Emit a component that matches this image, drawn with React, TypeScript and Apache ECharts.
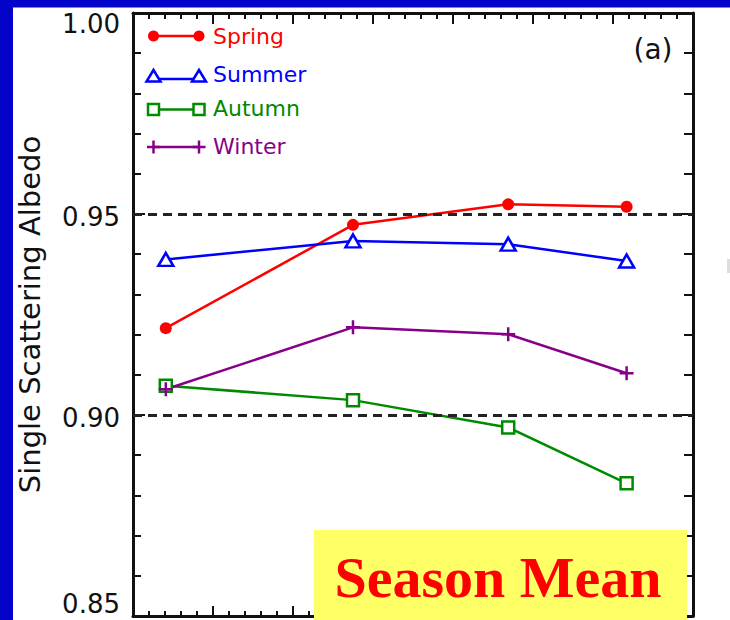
import React, { useEffect, useRef } from "react";
import * as echarts from "echarts";

// ---- data ----
const seasonX = [0.41, 2.75, 4.69, 6.17];
const springVals = [0.9216, 0.9473, 0.9524, 0.9518];
const summerVals = [0.9387, 0.9433, 0.9425, 0.9383];
const autumnVals = [0.9073, 0.9037, 0.8969, 0.883];
const winterVals = [0.9064, 0.9218, 0.9201, 0.9104];
const seriesNames = ["Spring", "Summer", "Autumn", "Winter"];
const seriesColors = ["#ff0000", "#0000ff", "#008a00", "#880088"];
const refLines = [0.95, 0.9];
const yMin = 0.85;
const yMax = 1.0;
const yStep = 0.05;
const xMin = 0;
const xMax = 7;
const yTitle = "Single Scattering Albedo";
const panelLabel = "(a)";
const boxLabel = "Season Mean";

const FONT = "DejaVu Sans";
const INK = "#111111";
const LW = 2.5;

function pairs(vals: number[]) {
  return seasonX.map((x, i) => [x, vals[i]]);
}

export default function App() {
  const ref = useRef<HTMLDivElement>(null);

  useEffect(() => {
    if (!ref.current) return;
    const chart = echarts.init(ref.current, undefined, { renderer: "svg" });

    const axisCommon = {
      axisLine: { show: true, onZero: false, lineStyle: { color: INK, width: 3 } },
      splitLine: { show: false },
    };

    const legendRows = [36, 77, 109.5, 147];
    const legendTextY = [36, 74, 108.5, 146.5];
    const lx1 = 153.5;
    const lx2 = 199;
    const legendGraphics: any[] = [];
    seriesNames.forEach((name, i) => {
      const y = legendRows[i];
      const c = seriesColors[i];
      const ly = i === 1 ? y + 2 : y;
      legendGraphics.push({
        type: "line",
        shape: { x1: lx1, y1: ly, x2: lx2, y2: ly },
        style: { stroke: c, lineWidth: LW },
        z: 50,
      });
      [lx1, lx2].forEach((x) => {
        if (i === 0) {
          legendGraphics.push({ type: "circle", shape: { cx: x, cy: y, r: 5.5 }, style: { fill: c }, z: 51 });
        } else if (i === 1) {
          legendGraphics.push({
            type: "polygon",
            shape: { points: [[x - 7, y + 4.5], [x + 7, y + 4.5], [x, y - 7]] },
            style: { fill: "#fff", stroke: c, lineWidth: LW },
            z: 51,
          });
        } else if (i === 2) {
          legendGraphics.push({
            type: "rect",
            shape: { x: x - 5.5, y: y - 5.5, width: 11, height: 11 },
            style: { fill: "#fff", stroke: c, lineWidth: LW },
            z: 51,
          });
        } else {
          legendGraphics.push({
            type: "line",
            shape: { x1: x, y1: y - 6.5, x2: x, y2: y + 6.5 },
            style: { stroke: c, lineWidth: LW },
            z: 51,
          });
          legendGraphics.push({
            type: "line",
            shape: { x1: x - 6.5, y1: y, x2: x + 6.5, y2: y },
            style: { stroke: c, lineWidth: LW },
            z: 51,
          });
        }
      });
      legendGraphics.push({
        type: "text",
        x: 213,
        y: legendTextY[i],
        style: {
          text: name,
          fill: c,
          font: `22px "${FONT}"`,
          verticalAlign: "middle",
          align: "left",
        },
        z: 51,
      });
    });

    const yLabelFormatter = (v: number) => {
      const s = v.toFixed(2);
      if (Math.abs(v - yMax) < 1e-6) return `{t|${s}}`;
      if (Math.abs(v - yMin) < 1e-6) return `{b|${s}}`;
      return `{m|${s}}`;
    };
    const richBase = { fontSize: 26, fontFamily: FONT, color: INK };

    const option: any = {
      animation: false,
      backgroundColor: "#ffffff",
      grid: { left: 133, top: 13, width: 560, height: 603, containLabel: false, outerBoundsMode: "none" },
      xAxis: [
        {
          type: "value",
          position: "bottom",
          min: xMin,
          max: xMax,
          interval: 1,
          ...axisCommon,
          axisTick: { show: true, inside: true, length: 10, lineStyle: { color: INK, width: 2 } },
          minorTick: { show: true, splitNumber: 5, length: 5, lineStyle: { color: INK, width: 2 } },
          minorSplitLine: { show: false },
          axisLabel: { show: false },
        },
        {
          type: "value",
          position: "top",
          min: xMin,
          max: xMax,
          interval: 1,
          ...axisCommon,
          axisTick: { show: true, inside: true, length: 11, lineStyle: { color: INK, width: 2 } },
          minorTick: { show: true, splitNumber: 5, length: 6, lineStyle: { color: INK, width: 2 } },
          minorSplitLine: { show: false },
          axisLabel: { show: false },
        },
      ],
      yAxis: [
        {
          type: "value",
          position: "left",
          min: yMin,
          max: yMax,
          interval: yStep,
          ...axisCommon,
          axisTick: { show: true, inside: true, length: 12, lineStyle: { color: INK, width: 2 } },
          minorTick: { show: true, splitNumber: 5, length: 8, lineStyle: { color: INK, width: 2 } },
          minorSplitLine: { show: false },
          axisLabel: {
            show: true,
            margin: 13,
            formatter: yLabelFormatter,
            rich: {
              t: { ...richBase, padding: [22, 0, 0, 0] },
              b: { ...richBase, padding: [0, 0, 24, 0] },
              m: { ...richBase, padding: [6, 0, 0, 0] },
            },
          },
          name: yTitle,
          nameLocation: "middle",
          nameGap: 89,
          nameTextStyle: { fontSize: 29, fontFamily: FONT, color: INK },
        },
        {
          type: "value",
          position: "right",
          min: yMin,
          max: yMax,
          interval: yStep,
          ...axisCommon,
          axisTick: { show: true, inside: true, length: 12, lineStyle: { color: INK, width: 2 } },
          minorTick: { show: true, splitNumber: 5, length: 9, lineStyle: { color: INK, width: 2 } },
          minorSplitLine: { show: false },
          axisLabel: { show: false },
        },
      ],
      series: [
        {
          name: "ref",
          type: "line",
          data: [],
          silent: true,
          markLine: {
            silent: true,
            symbol: ["none", "none"],
            label: { show: false },
            lineStyle: { type: [9, 6], color: "#222222", width: 3 },
            data: refLines.map((v) => ({ yAxis: v })),
          },
        },
        {
          name: seriesNames[0],
          type: "line",
          data: pairs(springVals),
          symbol: "circle",
          symbolSize: 12,
          itemStyle: { color: seriesColors[0] },
          lineStyle: { color: seriesColors[0], width: LW },
        },
        {
          name: seriesNames[1],
          type: "line",
          data: pairs(summerVals),
          symbol: "triangle",
          symbolSize: [15, 13],
          itemStyle: { color: "#ffffff", borderColor: seriesColors[1], borderWidth: LW },
          lineStyle: { color: seriesColors[1], width: LW },
        },
        {
          name: seriesNames[2],
          type: "line",
          data: pairs(autumnVals),
          symbol: "rect",
          symbolSize: 12,
          itemStyle: { color: "#ffffff", borderColor: seriesColors[2], borderWidth: LW },
          lineStyle: { color: seriesColors[2], width: LW },
        },
        {
          name: seriesNames[3],
          type: "line",
          data: pairs(winterVals),
          symbol: "path://M0,7H14M7,0V14",
          symbolSize: 14,
          itemStyle: { color: seriesColors[3], borderColor: seriesColors[3], borderWidth: LW },
          lineStyle: { color: seriesColors[3], width: LW },
        },
      ],
      graphic: [
        { type: "rect", shape: { x: 0, y: 0, width: 730, height: 7.5 }, style: { fill: "#0303c9" }, z: 100 },
        { type: "rect", shape: { x: 0, y: 0, width: 13, height: 620 }, style: { fill: "#0303c9" }, z: 100 },
        { type: "rect", shape: { x: 727, y: 259, width: 3, height: 14 }, style: { fill: "#dddddd" }, z: 100 },
        ...legendGraphics,
        {
          type: "text",
          x: 653,
          y: 49,
          style: { text: panelLabel, fill: INK, font: `28px "${FONT}"`, align: "center", verticalAlign: "middle" },
          z: 60,
        },
        { type: "rect", shape: { x: 314, y: 530, width: 373, height: 95 }, style: { fill: "#ffff66" }, z: 100 },
        {
          type: "text",
          x: 498,
          y: 577,
          style: {
            text: boxLabel,
            fill: "#ff0000",
            font: `bold 58px "Liberation Serif"`,
            align: "center",
            verticalAlign: "middle",
          },
          z: 101,
        },
      ],
    };

    chart.setOption(option);
    return () => chart.dispose();
  }, []);

  return (
    <div
      ref={ref}
      style={{ position: "fixed", left: 0, top: 0, width: 730, height: 620, background: "#fff" }}
    />
  );
}
